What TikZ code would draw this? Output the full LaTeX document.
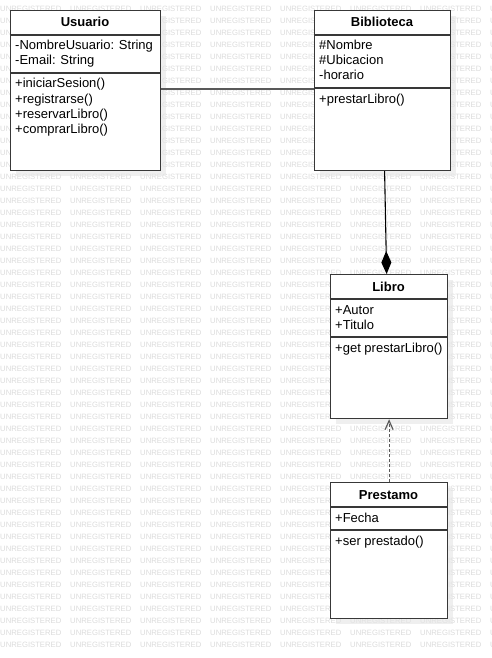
\documentclass[tikz,border=0pt]{standalone}
\usepackage{fontspec}
\setmainfont{Liberation Sans}
\usetikzlibrary{arrows.meta,shadows}

\tikzset{
  classbox/.style={draw=black!78, line width=1.2pt, fill=white, anchor=north west,
    inner sep=0pt, drop shadow={shadow xshift=5pt, shadow yshift=-5pt, fill=black!10, opacity=.6}},
  classline/.style={draw=black!78, line width=1.2pt},
  classtitle/.style={anchor=base, inner sep=0pt, font=\fontsize{13}{15}\bfseries\selectfont},
  member/.style={anchor=base west, inner sep=0pt, font=\fontsize{13}{15}\selectfont},
  wmark/.style={anchor=west, inner sep=0pt, text=black!14, font=\fontsize{7.7}{8}\selectfont},
}

\begin{document}
\begin{tikzpicture}[x=1pt,y=-1pt]
        \useasboundingbox (0,0) rectangle (491,658);

        % watermark
        \foreach \r in {0,...,53}
            \foreach \c in {0,...,7}
                \node[wmark] (wm-\r-\c) at (70*\c, 9+12*\r) {UNREGISTERED};

        % Usuario
        \begin{scope}[shift={(10,10)}]
            \node[classbox, minimum width=150pt, minimum height=160pt] (usuario) at (0,0) {};
            \node[classtitle] (usuario-t) at (75,17) {Usuario};
            \draw[classline] (0,25) -- (150,25);
            \draw[classline] (0,63) -- (150,63);
            \foreach \m [count=\i] in {-NombreUsuario: String, -Email: String}
                \node[member] (usuario-a\i) at (5,25+15*\i) {\m};
            \foreach \m [count=\i] in {+iniciarSesion(), +registrarse(), +reservarLibro(), +comprarLibro()}
                \node[member] (usuario-o\i) at (5,63+15*\i) {\m};
        \end{scope}

        % Biblioteca
        \begin{scope}[shift={(314,10)}]
            \node[classbox, minimum width=136pt, minimum height=160pt] (biblioteca) at (0,0) {};
            \node[classtitle] (biblioteca-t) at (68,17) {Biblioteca};
            \draw[classline] (0,25) -- (136,25);
            \draw[classline] (0,78) -- (136,78);
            \foreach \m [count=\i] in {\#Nombre, \#Ubicacion, -horario}
                \node[member] (biblioteca-a\i) at (5,25+15*\i) {\m};
            \node[member] (biblioteca-o1) at (5,93) {+prestarLibro()};
        \end{scope}

        % Libro
        \begin{scope}[shift={(330,274)}]
            \node[classbox, minimum width=117pt, minimum height=144pt] (libro) at (0,0) {};
            \node[classtitle] (libro-t) at (58.5,17) {Libro};
            \draw[classline] (0,25) -- (117,25);
            \draw[classline] (0,63) -- (117,63);
            \foreach \m [count=\i] in {+Autor, +Titulo}
                \node[member] (libro-a\i) at (5,25+15*\i) {\m};
            \node[member] (libro-o1) at (5,78) {+get prestarLibro()};
        \end{scope}

        % Prestamo
        \begin{scope}[shift={(330,482)}]
            \node[classbox, minimum width=117pt, minimum height=136pt] (prestamo) at (0,0) {};
            \node[classtitle] (prestamo-t) at (58.5,17) {Prestamo};
            \draw[classline] (0,25) -- (117,25);
            \draw[classline] (0,48) -- (117,48);
            \node[member] (prestamo-a1) at (5,40) {+Fecha};
            \node[member] (prestamo-o1) at (5,63) {+ser prestado()};
        \end{scope}

        % relations
        \draw[black!65, line width=1.2pt] ([yshift=-79pt]usuario.north east) -- ([yshift=-79pt]biblioteca.north west);
        \draw[black, line width=1.1pt, -{Diamond[length=23pt,width=10pt]}] ([xshift=2pt]biblioteca.south) -- ([xshift=-2.5pt]libro.north);
        \draw[black!65, line width=1.2pt, dash pattern=on 3pt off 2pt, -{Straight Barb[length=9pt,width=8pt]}] (prestamo.north) -- (libro.south);
\end{tikzpicture}
\end{document}
